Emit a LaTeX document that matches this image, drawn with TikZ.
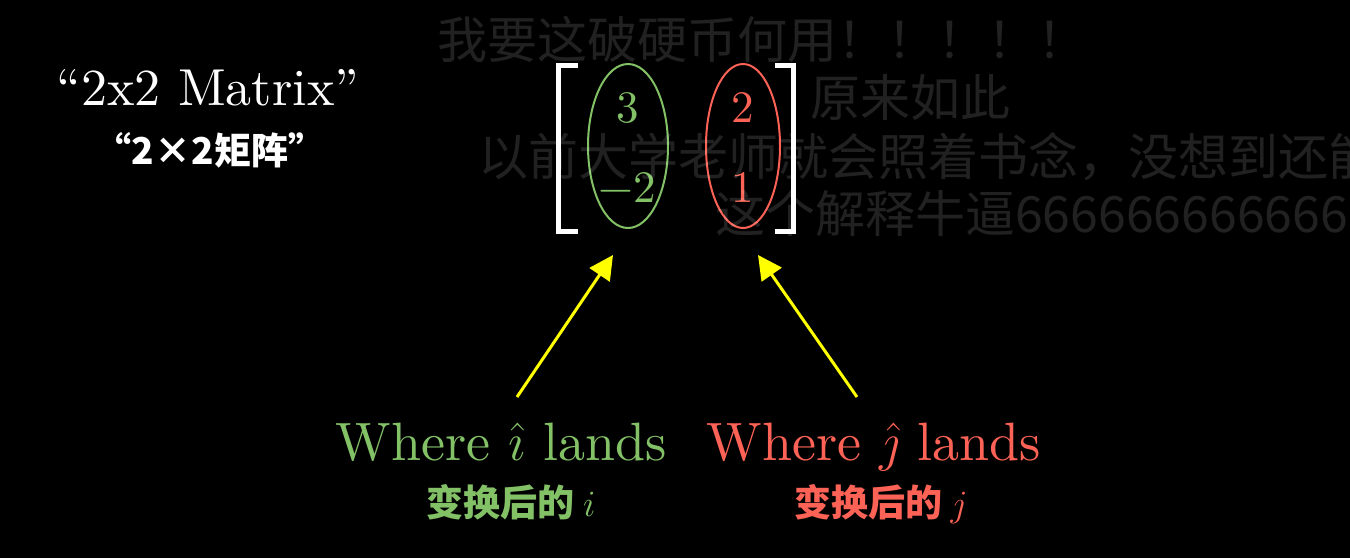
\RequirePackage{fix-cm}
\documentclass[tikz,border=0pt]{standalone}
\usepackage{fontspec}
\usetikzlibrary{arrows.meta,shapes.geometric}
\newfontfamily\cjk{Noto Sans CJK SC}
\newfontfamily\lmten[Extension=.otf,ItalicFont=lmroman10-italic]{lmroman10-regular}
\definecolor{mgreen}{HTML}{83C167}
\definecolor{mred}{HTML}{FC6255}
\definecolor{myellow}{HTML}{FFFF00}
\tikzset{
  txt/.style={inner sep=0pt, outer sep=0pt},
  entry/.style={txt, font=\fontsize{45}{45}\selectfont\lmten},
  col/.style={draw, ellipse, line width=2pt, inner sep=0pt, minimum width=80pt, minimum height=164pt},
  brk/.style={draw=white, line width=5pt, line cap=butt, line join=miter},
  arr/.style={draw=myellow, line width=3pt, -{Triangle[length=24pt,width=24pt]}},
  enlab/.style={txt, anchor=base, font=\fontsize{54}{54}\selectfont\lmten},
  cnlab/.style={txt, anchor=base, font=\fontsize{37}{37}\selectfont\cjk\bfseries},
  dmk/.style={txt, anchor=west, text=white, text opacity=0.13, font=\fontsize{50}{50}\selectfont\cjk}
}
\begin{document}
\begin{tikzpicture}[x=1pt,y=-1pt]
\fill[black] (0,0) rectangle (1350,558);
\clip (0,0) rectangle (1350,558);

% titles
\node[txt, text=white, font=\fontsize{52}{52}\selectfont\lmten] (title) at (208,88) {“2x2 Matrix”};
\node[txt, text=white, font=\fontsize{37}{37}\selectfont\cjk\bfseries] (titlecn) at (210,150) {“2×2矩阵”};

% matrix brackets
\draw[brk] (578,65) -- (558,65) -- (558,231) -- (578,231);
\draw[brk] (775,65) -- (793,65) -- (793,231) -- (775,231);

% entries
\node[entry, text=mgreen] (a11) at (628,108) {3};
\node[entry, text=mgreen] (a21) at (627,188) {−2};
\node[entry, text=mred] (a12) at (743,108) {2};
\node[entry, text=mred] (a22) at (743,188) {1};

% column ellipses
\node[col, draw=mgreen] (gcol) at (628,146) {};
\node[col, draw=mred, minimum width=74pt] (rcol) at (743,146) {};

% labels
\node[enlab, text=mgreen] (wi) at (501,460) {Where $\hat{\imath}$ lands};
\node[enlab, text=mred] (wj) at (874,460) {Where $\hat{\jmath}$ lands};
\node[cnlab, text=mgreen] (ci) at (511,516) {变换后的 $i$};
\node[cnlab, text=mred] (cj) at (881,516) {变换后的 $j$};

% arrows
\coordinate (ais) at (517,397);
\coordinate (aie) at (613,255);
\coordinate (ajs) at (857,397);
\coordinate (aje) at (758,255);
\draw[arr] (ais) -- (aie);
\draw[arr] (ajs) -- (aje);

% bullet comments
\node[dmk] (d1) at (437,39) {我要这破硬币何用！！！！！};
\node[dmk] (d2) at (810,98) {原来如此};
\node[dmk] (d3) at (478,157) {以前大学老师就会照着书念，没想到还能};
\node[dmk] (d4) at (715,213) {这个解释牛逼6666666666666666};
\end{tikzpicture}
\end{document}
